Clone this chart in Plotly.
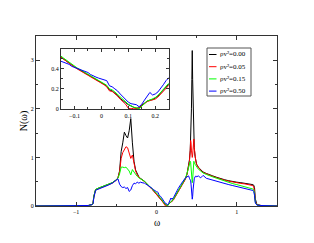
import plotly.graph_objects as go

# ---------------- data ----------------
OMEGA = [-1.5, -1.0, -0.9, -0.85, -0.8, -0.79, -0.78, -0.77, -0.76, -0.75,
         -0.7, -0.65, -0.6, -0.55, -0.5, -0.48, -0.46, -0.45, -0.44, -0.42, -0.40, -0.38,
         -0.36, -0.34, -0.32, -0.30, -0.28, -0.26, -0.24, -0.22, -0.20, -0.18, -0.16,
         -0.15, -0.14, -0.13, -0.12, -0.11, -0.10, -0.09, -0.08, -0.07, -0.06,
         -0.05, -0.04, -0.03, -0.02, -0.01, 0.00, 0.01, 0.02, 0.03, 0.04,
         0.05, 0.06, 0.07, 0.08, 0.09, 0.10, 0.11, 0.12, 0.13, 0.14,
         0.15, 0.16, 0.17, 0.18, 0.19, 0.20, 0.21, 0.22, 0.23, 0.24, 0.25,
         0.27, 0.30, 0.33, 0.36, 0.38, 0.40, 0.41, 0.42, 0.425, 0.43, 0.435, 0.44, 0.445,
         0.45, 0.455, 0.46, 0.465, 0.47, 0.48, 0.49, 0.50,
         0.52, 0.55, 0.58, 0.62, 0.66, 0.70, 0.75, 0.8, 0.85, 0.9, 0.95, 1.0, 1.05, 1.1,
         1.15, 1.18, 1.2, 1.21, 1.22, 1.23, 1.24, 1.25, 1.3, 1.4, 1.5]

N_000 = [0, 0, 0.003, 0.01, 0.03, 0.06, 0.2, 0.3, 0.33, 0.35,
         0.38, 0.41, 0.44, 0.48, 0.54, 0.58, 0.72, 0.98, 1.12, 1.3, 1.52, 1.45,
         1.4, 1.55, 1.8, 1.3, 0.92, 0.74, 0.65, 0.6, 0.57, 0.55, 0.53,
         0.51, 0.49, 0.47, 0.45, 0.43, 0.415, 0.40, 0.385, 0.37, 0.355,
         0.34, 0.32, 0.305, 0.29, 0.275, 0.26, 0.245, 0.225, 0.19, 0.18,
         0.16, 0.135, 0.105, 0.08, 0.065, 0.045, 0.03, 0.02, 0.01, 0.015,
         0.04, 0.06, 0.08, 0.09, 0.095, 0.11, 0.13, 0.16, 0.19, 0.22, 0.25,
         0.3, 0.38, 0.46, 0.56, 0.66, 0.82, 0.95, 1.15, 1.35, 1.6, 2.0, 2.6, 3.2,
         2.6, 2.0, 1.6, 1.38, 1.2, 1.02, 0.92, 0.86,
         0.8, 0.74, 0.7, 0.67, 0.64, 0.62, 0.59, 0.56, 0.54, 0.52, 0.5, 0.49, 0.48, 0.47,
         0.46, 0.45, 0.44, 0.43, 0.38, 0.15, 0.05, 0.03, 0.01, 0.002, 0]

N_005 = [0, 0, 0.003, 0.01, 0.03, 0.06, 0.19, 0.29, 0.32, 0.34,
         0.37, 0.40, 0.43, 0.47, 0.53, 0.58, 0.7, 0.85, 0.98, 1.1, 1.18, 1.22,
         1.2, 1.08, 0.98, 1.05, 0.88, 0.72, 0.64, 0.59, 0.56, 0.54, 0.52,
         0.51, 0.49, 0.47, 0.45, 0.43, 0.41, 0.395, 0.38, 0.365, 0.35,
         0.335, 0.315, 0.30, 0.285, 0.27, 0.255, 0.24, 0.22, 0.18, 0.175,
         0.155, 0.13, 0.10, 0.075, 0.05, 0.01, 0.005, 0.01, 0.01, 0.01,
         0.035, 0.055, 0.075, 0.085, 0.09, 0.10, 0.12, 0.15, 0.18, 0.21, 0.24,
         0.29, 0.37, 0.45, 0.55, 0.65, 0.8, 0.92, 1.15, 1.35, 1.3, 1.15, 1.05, 1.0,
         1.05, 1.2, 1.35, 1.38, 1.2, 1.0, 0.91, 0.85,
         0.79, 0.73, 0.69, 0.66, 0.63, 0.61, 0.58, 0.55, 0.53, 0.51, 0.49, 0.475, 0.465, 0.455,
         0.44, 0.43, 0.42, 0.39, 0.3, 0.1, 0.04, 0.025, 0.01, 0.002, 0]

N_015 = [0, 0, 0.003, 0.01, 0.03, 0.06, 0.2, 0.3, 0.33, 0.35,
         0.38, 0.41, 0.44, 0.48, 0.54, 0.57, 0.66, 0.76, 0.8, 0.8, 0.79, 0.8,
         0.76, 0.72, 0.64, 0.75, 0.7, 0.65, 0.61, 0.58, 0.56, 0.55, 0.53,
         0.52, 0.50, 0.48, 0.46, 0.44, 0.42, 0.405, 0.39, 0.375, 0.36,
         0.345, 0.33, 0.315, 0.30, 0.285, 0.27, 0.255, 0.235, 0.20, 0.19,
         0.17, 0.145, 0.115, 0.09, 0.07, 0.05, 0.035, 0.02, 0.015, 0.005,
         0.03, 0.055, 0.08, 0.09, 0.10, 0.115, 0.135, 0.165, 0.195, 0.225, 0.255,
         0.3, 0.38, 0.47, 0.57, 0.67, 0.8, 0.88, 0.92, 0.9, 0.8, 0.65, 0.52, 0.48,
         0.55, 0.7, 0.85, 0.92, 0.9, 0.86, 0.83, 0.8,
         0.76, 0.72, 0.68, 0.65, 0.62, 0.6, 0.57, 0.54, 0.51, 0.49, 0.46, 0.44, 0.42, 0.39,
         0.37, 0.36, 0.35, 0.33, 0.25, 0.08, 0.03, 0.02, 0.01, 0.002, 0]

N_050 = [0, 0, 0.003, 0.01, 0.03, 0.05, 0.17, 0.27, 0.31, 0.33,
         0.36, 0.39, 0.43, 0.47, 0.53, 0.56, 0.45, 0.41, 0.4, 0.38, 0.39, 0.36,
         0.38, 0.3, 0.33, 0.42, 0.47, 0.46, 0.49, 0.47, 0.49, 0.48, 0.48,
         0.47, 0.46, 0.45, 0.44, 0.42, 0.41, 0.40, 0.39, 0.38, 0.37,
         0.36, 0.34, 0.325, 0.315, 0.305, 0.295, 0.29, 0.28, 0.23, 0.22,
         0.20, 0.18, 0.15, 0.12, 0.10, 0.07, 0.055, 0.05, 0.045, 0.025,
         0.05, 0.09, 0.13, 0.165, 0.14, 0.15, 0.17, 0.20, 0.24, 0.28, 0.31,
         0.36, 0.44, 0.52, 0.58, 0.6, 0.62, 0.57, 0.55, 0.52, 0.45, 0.35, 0.22, 0.14,
         0.2, 0.33, 0.45, 0.52, 0.56, 0.6, 0.62, 0.6,
         0.62, 0.58, 0.63, 0.57, 0.55, 0.53, 0.5, 0.48, 0.46, 0.44, 0.42, 0.4, 0.38, 0.36,
         0.34, 0.33, 0.32, 0.3, 0.22, 0.06, 0.03, 0.02, 0.01, 0.002, 0]

SERIES = [N_000, N_005, N_015, N_050]
LABELS = ["ρv²=0.00", "ρv²=0.05", "ρv²=0.15", "ρv²=0.50"]
COLORS = ["#000000", "#ff0000", "#00ff00", "#0000ff"]

# ---------------- layout geometry (page pixels) ----------------
PAGE_W, PAGE_H = 314, 243
OFF = 8                          # default page margin around the figure
L, R, T, B = 36, 277, 36, 206    # main plot frame in page pixels
FONT = "Liberation Serif"


def fx(px):
    return (px - L) / (R - L)


def fy(py):
    return (B - py) / (B - T)


fig = go.Figure()
for ys, col in zip(SERIES, COLORS):
    fig.add_trace(go.Scatter(x=OMEGA, y=ys, mode="lines",
                             line=dict(color=col, width=1),
                             showlegend=False, hoverinfo="skip",
                             xaxis="x", yaxis="y"))
for ys, col in zip(SERIES, COLORS):
    fig.add_trace(go.Scatter(x=OMEGA, y=ys, mode="lines",
                             line=dict(color=col, width=1),
                             showlegend=False, hoverinfo="skip",
                             xaxis="x2", yaxis="y2"))

AX = "#333333"


def axstyle(rng, dtick, mdtick, size, ticklen=4):
    return dict(range=rng, dtick=dtick, tick0=0, showline=True, linecolor=AX,
                linewidth=1, mirror="allticks", ticks="inside", ticklen=ticklen,
                tickwidth=1, tickcolor=AX, showgrid=False, zeroline=False,
                automargin=False,
                tickfont=dict(family=FONT, size=size, color="#000"),
                minor=dict(ticks="inside", ticklen=2, tickwidth=1, tickcolor=AX,
                           dtick=mdtick, tick0=0, showgrid=False))


xa = axstyle([-1.5, 1.5], 1, 0.5, 6)
xa.update(domain=[0, 1], anchor="y")
ya = axstyle([0, 3.5], 1, 0.5, 6)
ya.update(domain=[0, 1], anchor="x",
          title=dict(text="N(ω)", font=dict(family=FONT, size=10, color="#000"), standoff=1))

xa2 = axstyle([-0.15, 0.25], 0.1, 0.05, 6, ticklen=3)
xa2.update(domain=[fx(61), fx(168.7)], anchor="y2")
ya2 = axstyle([0, 0.59], 0.2, 0.1, 6, ticklen=3)
ya2.update(domain=[fy(109.3), fy(49)], anchor="x2")

# ---------------- legend (box, keys and labels) ----------------
shapes = [dict(type="rect", xref="paper", yref="paper",
               x0=fx(207), x1=fx(251), y0=fy(96), y1=fy(48),
               line=dict(color="#555555", width=1), fillcolor="white", layer="above")]
annotations = [dict(xref="paper", yref="paper", x=0.5, y=fy(215.5), text="ω",
                    showarrow=False, xanchor="center", yanchor="top",
                    font=dict(family=FONT, size=9.5, color="#000"))]
ROW0, ROWSTEP = 54.5, 12.2
for i, (lab, col) in enumerate(zip(LABELS, COLORS)):
    yy = fy(ROW0 + i * ROWSTEP)
    shapes.append(dict(type="line", xref="paper", yref="paper",
                       x0=fx(209), x1=fx(216.5), y0=yy, y1=yy,
                       line=dict(color=col, width=1), layer="above"))
    annotations.append(dict(xref="paper", yref="paper", x=fx(218), y=yy,
                            text=lab, showarrow=False, xanchor="left", yanchor="middle",
                            font=dict(family=FONT, size=7, color="#000")))

fig.update_layout(
    template="none",
    width=PAGE_W - OFF, height=PAGE_H - OFF,
    margin=dict(l=L - OFF, r=PAGE_W - R, t=T - OFF, b=PAGE_H - B, pad=0),
    paper_bgcolor="white", plot_bgcolor="white",
    xaxis=xa, yaxis=ya, xaxis2=xa2, yaxis2=ya2,
    shapes=shapes, annotations=annotations,
    showlegend=False,
    font=dict(family=FONT, size=6, color="#000"),
)

fig.write_html("out.html")
